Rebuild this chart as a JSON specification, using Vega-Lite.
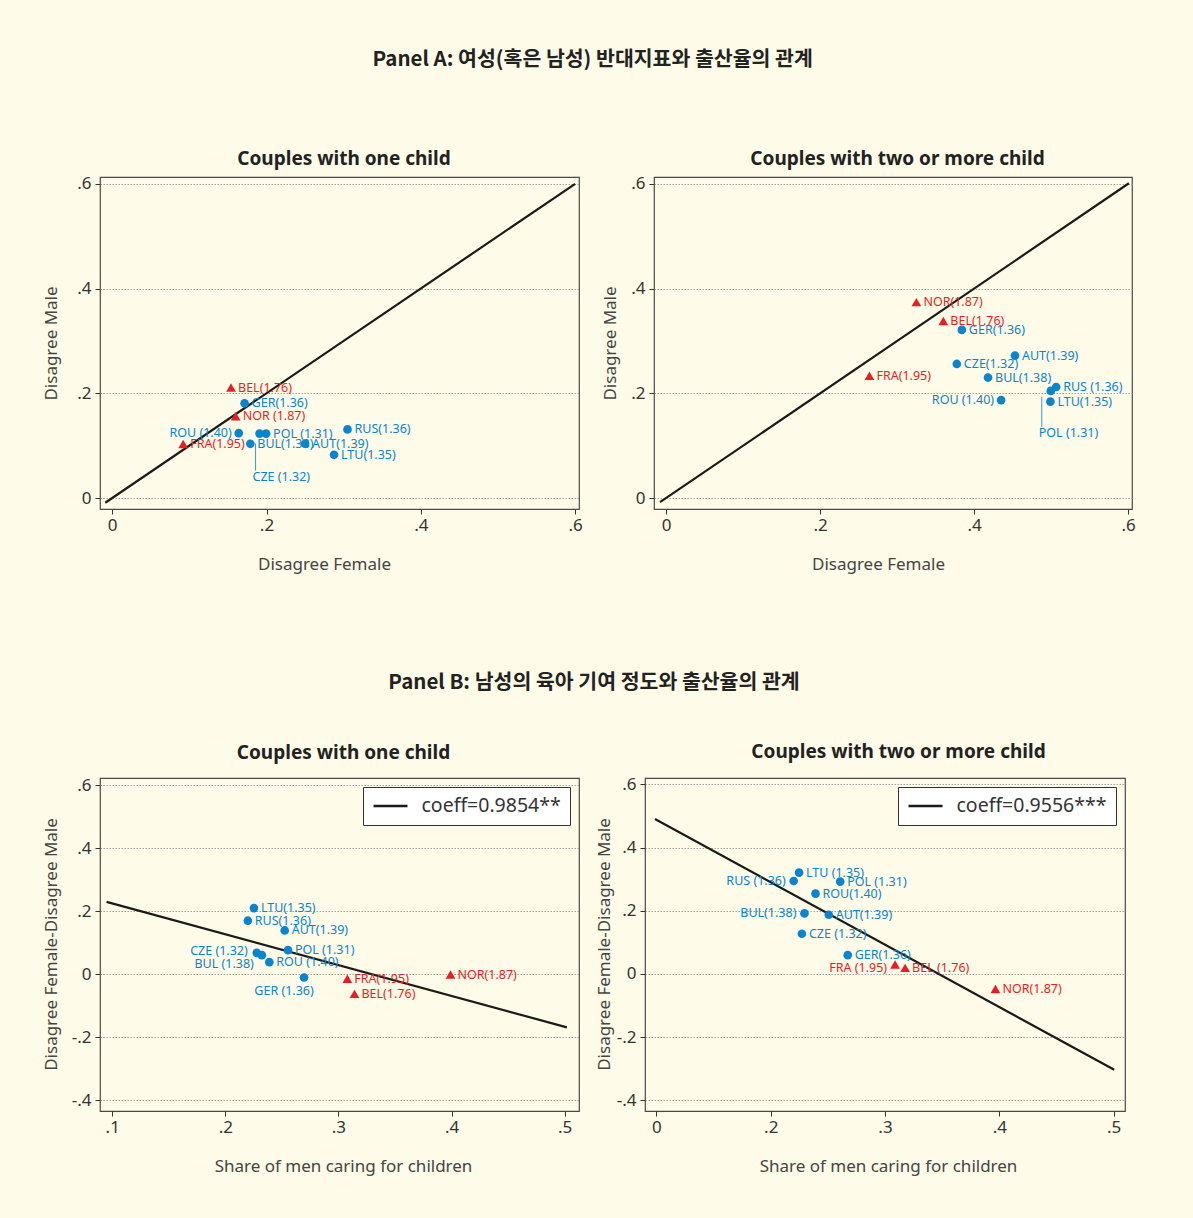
{
  "$schema": "https://vega.github.io/schema/vega-lite/v6.json",
  "description": "Panel A and B: disagreement indicators, men's childcare share and fertility",
  "background": "#fefbe8",
  "padding": {"left": 41, "top": 49, "right": 57, "bottom": 45},
  "config": {
    "view": {"stroke": "#4a4a4a", "strokeWidth": 1.2},
    "title": {"font": "Noto Sans", "fontSize": 19, "fontWeight": "bold", "color": "#222222", "anchor": "middle"},
    "axis": {
      "labelFont": "Noto Sans", "labelFontSize": 17, "labelColor": "#333333", "labelFlush": false, "labelOverlap": false,
      "titleFont": "Noto Sans", "titleFontSize": 17, "titleFontWeight": "normal", "titleColor": "#444444",
      "tickColor": "#333333", "tickSize": 5, "domain": false, "grid": false
    },
    "axisY": {
      "grid": true, "gridDash": [1.5, 1.5], "gridColor": "#9a9a9a", "gridWidth": 0.9,
      "labelPadding": 4, "titleAngle": -90, "titleBaseline": "middle", "titleY": 166
    },
    "axisX": {"labelPadding": 3, "titleBaseline": "middle", "titleY": 55},
    "text": {"font": "Noto Sans", "fontSize": 12.5}
  },
  "datasets": {
    "a1": [
      {"country": "BEL", "group": "high", "x": 0.154, "y": 0.211, "label": "BEL(1.76)"},
      {"country": "GER", "group": "low", "x": 0.1716, "y": 0.181, "label": "GER(1.36)"},
      {"country": "NOR", "group": "high", "x": 0.160, "y": 0.156, "label": "NOR (1.87)"},
      {"country": "ROU", "group": "low", "x": 0.164, "y": 0.124, "label": "ROU (1.40)"},
      {"country": "CZE", "group": "low", "x": 0.191, "y": 0.123, "label": "CZE (1.32)"},
      {"country": "POL", "group": "low", "x": 0.1995, "y": 0.123, "label": "POL (1.31)"},
      {"country": "RUS", "group": "low", "x": 0.305, "y": 0.131, "label": "RUS(1.36)"},
      {"country": "BUL", "group": "low", "x": 0.179, "y": 0.1035, "label": "BUL(1.38)"},
      {"country": "FRA", "group": "high", "x": 0.092, "y": 0.103, "label": "FRA(1.95)"},
      {"country": "AUT", "group": "low", "x": 0.250, "y": 0.1035, "label": "AUT(1.39)"},
      {"country": "LTU", "group": "low", "x": 0.2875, "y": 0.0825, "label": "LTU(1.35)"}
    ],
    "a2": [
      {"country": "NOR", "group": "high", "x": 0.325, "y": 0.374, "label": "NOR(1.87)"},
      {"country": "BEL", "group": "high", "x": 0.360, "y": 0.338, "label": "BEL(1.76)"},
      {"country": "GER", "group": "low", "x": 0.384, "y": 0.321, "label": "GER(1.36)"},
      {"country": "AUT", "group": "low", "x": 0.453, "y": 0.272, "label": "AUT(1.39)"},
      {"country": "CZE", "group": "low", "x": 0.3775, "y": 0.256, "label": "CZE(1.32)"},
      {"country": "FRA", "group": "high", "x": 0.264, "y": 0.2335, "label": "FRA(1.95)"},
      {"country": "BUL", "group": "low", "x": 0.418, "y": 0.230, "label": "BUL(1.38)"},
      {"country": "RUS", "group": "low", "x": 0.5065, "y": 0.212, "label": "RUS (1.36)"},
      {"country": "POL", "group": "low", "x": 0.4995, "y": 0.2045, "label": "POL (1.31)"},
      {"country": "ROU", "group": "low", "x": 0.435, "y": 0.187, "label": "ROU (1.40)"},
      {"country": "LTU", "group": "low", "x": 0.499, "y": 0.184, "label": "LTU(1.35)"}
    ],
    "b1": [
      {"country": "LTU", "group": "low", "x": 0.2253, "y": 0.210, "label": "LTU(1.35)"},
      {"country": "RUS", "group": "low", "x": 0.2199, "y": 0.170, "label": "RUS(1.36)"},
      {"country": "AUT", "group": "low", "x": 0.2525, "y": 0.139, "label": "AUT(1.39)"},
      {"country": "POL", "group": "low", "x": 0.2554, "y": 0.0764, "label": "POL (1.31)"},
      {"country": "CZE", "group": "low", "x": 0.2278, "y": 0.0679, "label": "CZE (1.32)"},
      {"country": "BUL", "group": "low", "x": 0.2323, "y": 0.0604, "label": "BUL (1.38)"},
      {"country": "ROU", "group": "low", "x": 0.2389, "y": 0.0382, "label": "ROU (1.40)"},
      {"country": "GER", "group": "low", "x": 0.2696, "y": -0.0106, "label": "GER (1.36)"},
      {"country": "FRA", "group": "high", "x": 0.3079, "y": -0.0148, "label": "FRA(1.95)"},
      {"country": "BEL", "group": "high", "x": 0.3142, "y": -0.0626, "label": "BEL(1.76)"},
      {"country": "NOR", "group": "high", "x": 0.3991, "y": -0.001, "label": "NOR(1.87)"}
    ],
    "b2": [
      {"country": "LTU", "group": "low", "x": 0.2248, "y": 0.3206, "label": "LTU (1.35)"},
      {"country": "RUS", "group": "low", "x": 0.2201, "y": 0.294, "label": "RUS (1.36)"},
      {"country": "POL", "group": "low", "x": 0.2608, "y": 0.292, "label": "POL (1.31)"},
      {"country": "ROU", "group": "low", "x": 0.2392, "y": 0.254, "label": "ROU(1.40)"},
      {"country": "BUL", "group": "low", "x": 0.2295, "y": 0.1915, "label": "BUL(1.38)"},
      {"country": "AUT", "group": "low", "x": 0.2508, "y": 0.1873, "label": "AUT(1.39)"},
      {"country": "CZE", "group": "low", "x": 0.2273, "y": 0.127, "label": "CZE (1.32)"},
      {"country": "GER", "group": "low", "x": 0.2674, "y": 0.0593, "label": "GER(1.36)"},
      {"country": "FRA", "group": "high", "x": 0.3088, "y": 0.0296, "label": "FRA (1.95)"},
      {"country": "BEL", "group": "high", "x": 0.3176, "y": 0.019, "label": "BEL (1.76)"},
      {"country": "NOR", "group": "high", "x": 0.3966, "y": -0.0476, "label": "NOR(1.87)"}
    ],
    "diag_a1": [{"x": -0.009, "y": -0.009}, {"x": 0.6, "y": 0.6}],
    "diag_a2": [{"x": -0.008, "y": -0.008}, {"x": 0.601, "y": 0.601}],
    "fit_b1": [{"x": 0.095, "y": 0.230, "fit": "coeff=0.9854**"}, {"x": 0.502, "y": -0.169, "fit": "coeff=0.9854**"}],
    "fit_b2": [{"x": 0.0987, "y": 0.490, "fit": "coeff=0.9556***"}, {"x": 0.5006, "y": -0.3037, "fit": "coeff=0.9556***"}]
  },
  "spacing": 100,
  "resolve": {"scale": {"stroke": "independent"}, "legend": {"stroke": "independent"}},
  "vconcat": [
    {
      "title": {"text": "Panel A: 여성(혹은 남성) 반대지표와 출산율의 관계", "font": "Noto Sans CJK KR", "fontSize": 20.5, "fontWeight": "bold", "offset": 79, "dx": 4},
      "spacing": 17,
      "hconcat": [
        {
          "width": 479, "height": 332,
          "title": {"text": "Couples with one child", "frame": "group", "dx": 4.5, "offset": 6},
          "encoding": {
            "x": {"field": "x", "type": "quantitative", "scale": {"domain": [-0.0158, 0.605], "nice": false, "zero": false},
              "axis": {"values": [0, 0.2, 0.4, 0.6], "labelExpr": "datum.value == 0 ? '0' : (datum.value < 0 ? '-' : '') + '.' + round(abs(datum.value) * 10)", "title": "Disagree Female", "titleX": 224}},
            "y": {"field": "y", "type": "quantitative", "scale": {"domain": [-0.021, 0.613], "nice": false, "zero": false},
              "axis": {"values": [0, 0.2, 0.4, 0.6], "labelExpr": "datum.value == 0 ? '0' : (datum.value < 0 ? '-' : '') + '.' + round(abs(datum.value) * 10)", "title": "Disagree Male", "titleX": -49}}
          },
          "layer": [
            {"data": {"name": "diag_a1"}, "mark": {"type": "line", "color": "#1a1a1a", "strokeWidth": 2.2}},
            {"data": {"name": "a1"}, "transform": [{"filter": "datum.country == 'CZE'"}],
              "mark": {"type": "rule", "color": "#3a95d3", "strokeWidth": 1, "xOffset": -4, "yOffset": 10, "y2Offset": 37},
              "encoding": {"y2": {"field": "y"}}},
            {"data": {"name": "a1"}, "transform": [{"filter": "datum.group == 'low'"}],
              "mark": {"type": "circle", "size": 75, "opacity": 1, "color": "#0a84cc"}},
            {"data": {"name": "a1"}, "transform": [{"filter": "datum.group == 'high'"}],
              "mark": {"type": "point", "shape": "triangle-up", "filled": true, "size": 95, "opacity": 1, "color": "#ed1c24"}},
            {"data": {"name": "a1"}, "transform": [{"filter": "indexof(['ROU', 'CZE'], datum.country) < 0"}],
              "mark": {"type": "text", "align": "left", "dx": 7},
              "encoding": {"text": {"field": "label"}, "color": {"field": "group", "type": "nominal", "scale": {"domain": ["low", "high"], "range": ["#0a84cc", "#ed1c24"]}, "legend": null}}},
            {"data": {"name": "a1"}, "transform": [{"filter": "datum.country == 'ROU'"}],
              "mark": {"type": "text", "align": "right", "dx": -7},
              "encoding": {"text": {"field": "label"}, "color": {"field": "group", "type": "nominal", "legend": null}}},
            {"data": {"name": "a1"}, "transform": [{"filter": "datum.country == 'CZE'"}],
              "mark": {"type": "text", "align": "left", "dx": -7, "dy": 43},
              "encoding": {"text": {"field": "label"}, "color": {"field": "group", "type": "nominal", "legend": null}}}
          ]
        },
        {
          "width": 478, "height": 332,
          "title": {"text": "Couples with two or more child", "frame": "group", "dx": 4.5, "offset": 6},
          "encoding": {
            "x": {"field": "x", "type": "quantitative", "scale": {"domain": [-0.0158, 0.605], "nice": false, "zero": false},
              "axis": {"values": [0, 0.2, 0.4, 0.6], "labelExpr": "datum.value == 0 ? '0' : (datum.value < 0 ? '-' : '') + '.' + round(abs(datum.value) * 10)", "title": "Disagree Female", "titleX": 224}},
            "y": {"field": "y", "type": "quantitative", "scale": {"domain": [-0.021, 0.613], "nice": false, "zero": false},
              "axis": {"values": [0, 0.2, 0.4, 0.6], "labelExpr": "datum.value == 0 ? '0' : (datum.value < 0 ? '-' : '') + '.' + round(abs(datum.value) * 10)", "title": "Disagree Male", "titleX": -44}}
          },
          "layer": [
            {"data": {"name": "diag_a2"}, "mark": {"type": "line", "color": "#1a1a1a", "strokeWidth": 2.2}},
            {"data": {"name": "a2"}, "transform": [{"filter": "datum.country == 'POL'"}],
              "mark": {"type": "rule", "color": "#3a95d3", "strokeWidth": 1, "xOffset": -9, "yOffset": 6, "y2Offset": 36},
              "encoding": {"y2": {"field": "y"}}},
            {"data": {"name": "a2"}, "transform": [{"filter": "datum.group == 'low'"}],
              "mark": {"type": "circle", "size": 75, "opacity": 1, "color": "#0a84cc"}},
            {"data": {"name": "a2"}, "transform": [{"filter": "datum.group == 'high'"}],
              "mark": {"type": "point", "shape": "triangle-up", "filled": true, "size": 95, "opacity": 1, "color": "#ed1c24"}},
            {"data": {"name": "a2"}, "transform": [{"filter": "indexof(['ROU', 'POL'], datum.country) < 0"}],
              "mark": {"type": "text", "align": "left", "dx": 7},
              "encoding": {"text": {"field": "label"}, "color": {"field": "group", "type": "nominal", "legend": null}}},
            {"data": {"name": "a2"}, "transform": [{"filter": "datum.country == 'ROU'"}],
              "mark": {"type": "text", "align": "right", "dx": -7},
              "encoding": {"text": {"field": "label"}, "color": {"field": "group", "type": "nominal", "legend": null}}},
            {"data": {"name": "a2"}, "transform": [{"filter": "datum.country == 'POL'"}],
              "mark": {"type": "text", "align": "left", "dx": -12, "dy": 42},
              "encoding": {"text": {"field": "label"}, "color": {"field": "group", "type": "nominal", "legend": null}}}
          ]
        }
      ]
    },
    {
      "title": {"text": "Panel B: 남성의 육아 기여 정도와 출산율의 관계", "font": "Noto Sans CJK KR", "fontSize": 20.5, "fontWeight": "bold", "offset": 49, "dx": 10.5},
      "spacing": 14,
      "resolve": {"scale": {"stroke": "independent"}, "legend": {"stroke": "independent"}},
      "hconcat": [
        {
          "width": 479, "height": 333,
          "title": {"text": "Couples with one child", "frame": "group", "dx": 4, "offset": 13},
          "encoding": {
            "x": {"field": "x", "type": "quantitative", "scale": {"domain": [0.0892, 0.5127], "nice": false, "zero": false},
              "axis": {"values": [0.1, 0.2, 0.3, 0.4, 0.5], "labelExpr": "'.' + round(datum.value * 10)", "title": "Share of men caring for children", "titleX": 243}},
            "y": {"field": "y", "type": "quantitative", "scale": {"domain": [-0.4348, 0.6235], "nice": false, "zero": false},
              "axis": {"values": [-0.4, -0.2, 0, 0.2, 0.4, 0.6], "labelExpr": "datum.value == 0 ? '0' : (datum.value < 0 ? '-' : '') + '.' + round(abs(datum.value) * 10)", "title": "Disagree Female-Disagree Male", "titleX": -49}}
          },
          "layer": [
            {"data": {"name": "fit_b1"}, "mark": {"type": "line", "strokeWidth": 2.2},
              "encoding": {"stroke": {"field": "fit", "type": "nominal", "scale": {"range": ["#1a1a1a"]},
                "legend": {"orient": "top-right", "offset": 9, "title": null, "strokeColor": "#333333", "fillColor": "#ffffff", "padding": 9,
                  "symbolType": "M-2,0H2", "symbolSize": 289, "symbolStrokeWidth": 2.5, "symbolOffset": 8.5,
                  "labelFont": "Noto Sans", "labelFontSize": 19.5, "labelColor": "#333333", "labelOffset": 21, "labelLimit": 300}}}},
            {"data": {"name": "b1"}, "transform": [{"filter": "datum.group == 'low'"}],
              "mark": {"type": "circle", "size": 75, "opacity": 1, "color": "#0a84cc"}},
            {"data": {"name": "b1"}, "transform": [{"filter": "datum.group == 'high'"}],
              "mark": {"type": "point", "shape": "triangle-up", "filled": true, "size": 95, "opacity": 1, "color": "#ed1c24"}},
            {"data": {"name": "b1"}, "transform": [{"filter": "indexof(['CZE', 'BUL', 'GER'], datum.country) < 0"}],
              "mark": {"type": "text", "align": "left", "dx": 7},
              "encoding": {"text": {"field": "label"}, "color": {"field": "group", "type": "nominal", "legend": null}}},
            {"data": {"name": "b1"}, "transform": [{"filter": "datum.country == 'CZE'"}],
              "mark": {"type": "text", "align": "right", "dx": -9, "dy": -2},
              "encoding": {"text": {"field": "label"}, "color": {"field": "group", "type": "nominal", "legend": null}}},
            {"data": {"name": "b1"}, "transform": [{"filter": "datum.country == 'BUL'"}],
              "mark": {"type": "text", "align": "right", "dx": -8, "dy": 9},
              "encoding": {"text": {"field": "label"}, "color": {"field": "group", "type": "nominal", "legend": null}}},
            {"data": {"name": "b1"}, "transform": [{"filter": "datum.country == 'GER'"}],
              "mark": {"type": "text", "align": "center", "dx": -20, "dy": 13},
              "encoding": {"text": {"field": "label"}, "color": {"field": "group", "type": "nominal", "legend": null}}}
          ]
        },
        {
          "width": 480, "height": 333,
          "title": {"text": "Couples with two or more child", "frame": "group", "dx": 13.5, "offset": 13},
          "encoding": {
            "x": {"field": "x", "type": "quantitative", "scale": {"domain": [0.090, 0.510], "nice": false, "zero": false},
              "axis": {"values": [0.1, 0.2, 0.3, 0.4, 0.5], "labelExpr": "datum.value < 0.15 ? '0' : '.' + round(datum.value * 10)", "title": "Share of men caring for children", "titleX": 243}},
            "y": {"field": "y", "type": "quantitative", "scale": {"domain": [-0.434, 0.620], "nice": false, "zero": false},
              "axis": {"values": [-0.4, -0.2, 0, 0.2, 0.4, 0.6], "labelExpr": "datum.value == 0 ? '0' : (datum.value < 0 ? '-' : '') + '.' + round(abs(datum.value) * 10)", "title": "Disagree Female-Disagree Male", "titleX": -41}}
          },
          "layer": [
            {"data": {"name": "fit_b2"}, "mark": {"type": "line", "strokeWidth": 2.2},
              "encoding": {"stroke": {"field": "fit", "type": "nominal", "scale": {"range": ["#1a1a1a"]},
                "legend": {"orient": "top-right", "offset": 9, "title": null, "strokeColor": "#333333", "fillColor": "#ffffff", "padding": 9,
                  "symbolType": "M-2,0H2", "symbolSize": 289, "symbolStrokeWidth": 2.5, "symbolOffset": 8.5,
                  "labelFont": "Noto Sans", "labelFontSize": 19.5, "labelColor": "#333333", "labelOffset": 21, "labelLimit": 300}}}},
            {"data": {"name": "b2"}, "transform": [{"filter": "datum.group == 'low'"}],
              "mark": {"type": "circle", "size": 75, "opacity": 1, "color": "#0a84cc"}},
            {"data": {"name": "b2"}, "transform": [{"filter": "datum.group == 'high'"}],
              "mark": {"type": "point", "shape": "triangle-up", "filled": true, "size": 95, "opacity": 1, "color": "#ed1c24"}},
            {"data": {"name": "b2"}, "transform": [{"filter": "indexof(['RUS', 'BUL', 'FRA'], datum.country) < 0"}],
              "mark": {"type": "text", "align": "left", "dx": 7},
              "encoding": {"text": {"field": "label"}, "color": {"field": "group", "type": "nominal", "legend": null}}},
            {"data": {"name": "b2"}, "transform": [{"filter": "indexof(['RUS', 'BUL'], datum.country) >= 0"}],
              "mark": {"type": "text", "align": "right", "dx": -8},
              "encoding": {"text": {"field": "label"}, "color": {"field": "group", "type": "nominal", "legend": null}}},
            {"data": {"name": "b2"}, "transform": [{"filter": "datum.country == 'FRA'"}],
              "mark": {"type": "text", "align": "right", "dx": -8, "dy": 3},
              "encoding": {"text": {"field": "label"}, "color": {"field": "group", "type": "nominal", "legend": null}}}
          ]
        }
      ]
    }
  ]
}
